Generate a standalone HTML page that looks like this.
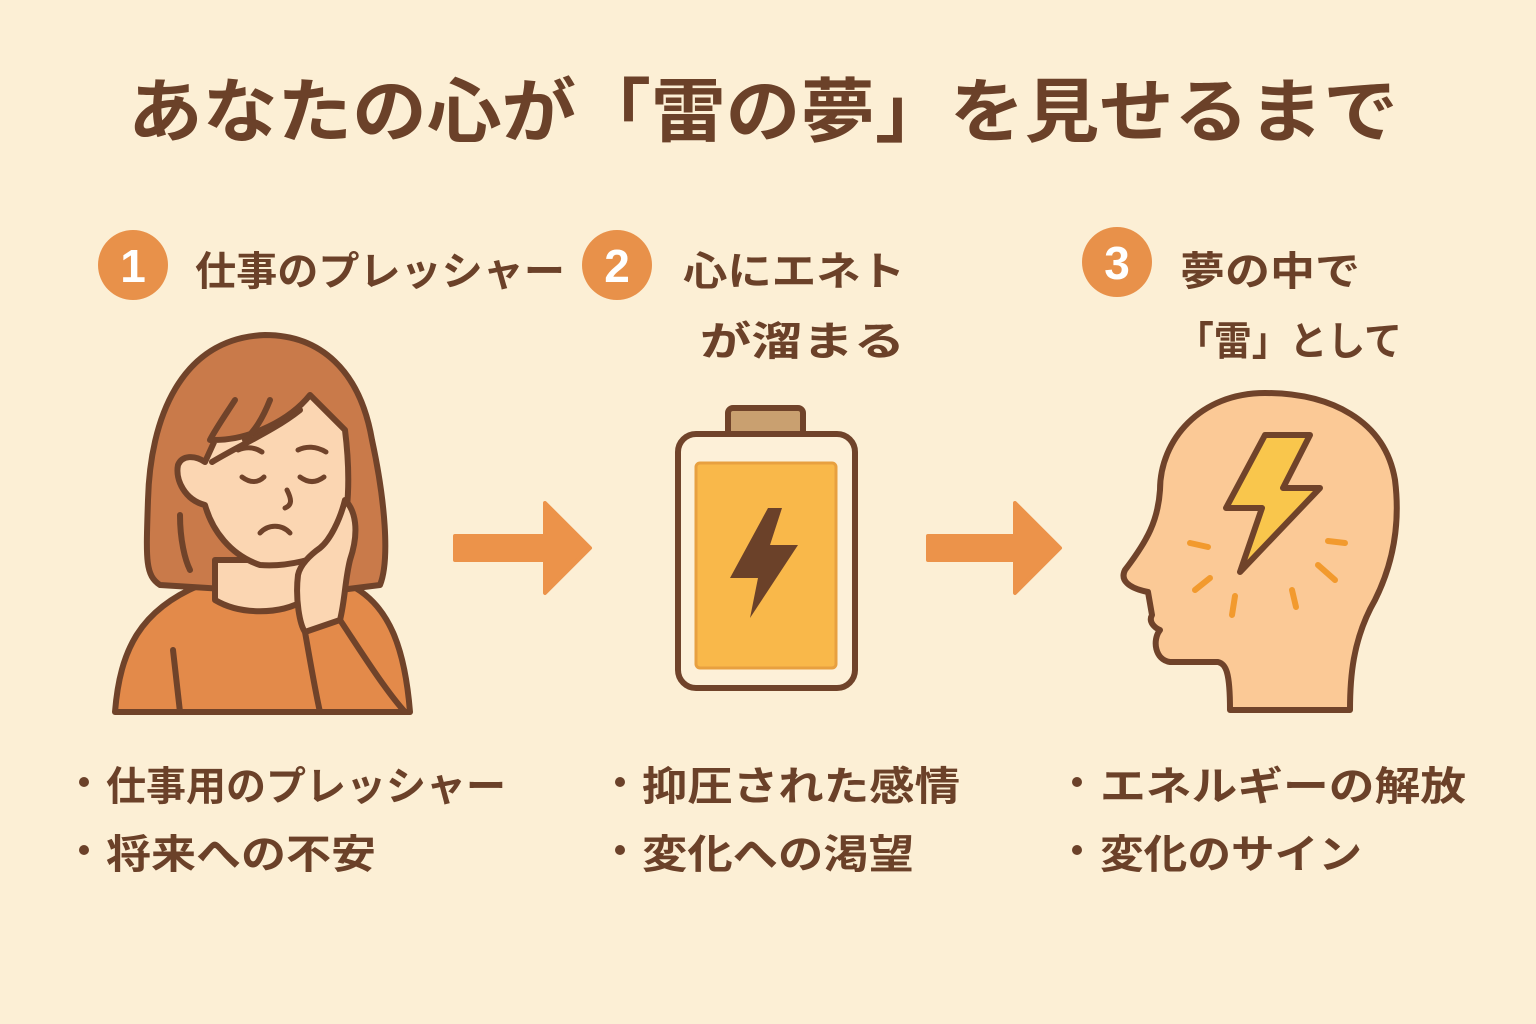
<!DOCTYPE html>
<html><head><meta charset="utf-8"><style>
html,body{margin:0;padding:0;background:#fcefd5;}
svg{display:block}
text{font-family:"Liberation Sans","Noto Sans CJK JP",sans-serif;font-weight:bold;fill:#6b4129}
</style></head><body>
<svg width="1536" height="1024" viewBox="0 0 1536 1024" xmlns="http://www.w3.org/2000/svg">
<rect width="1536" height="1024" fill="#fcefd5"/>
<text x="763" y="136" font-size="70" text-anchor="middle" textLength="1270" lengthAdjust="spacingAndGlyphs">あなたの心が「雷の夢」を見せるまで</text>

<!-- step headers -->
<circle cx="133" cy="265" r="35" fill="#e8914a"/>
<text x="133" y="282" font-size="46" text-anchor="middle" style="fill:#fff">1</text>
<text x="195" y="285" font-size="40" textLength="370" lengthAdjust="spacingAndGlyphs">仕事のプレッシャー</text>

<circle cx="617" cy="265" r="35" fill="#e8914a"/>
<text x="617" y="282" font-size="46" text-anchor="middle" style="fill:#fff">2</text>
<text x="683" y="285" font-size="40" textLength="222" lengthAdjust="spacingAndGlyphs">心にエネト</text>
<text x="905" y="355" font-size="40" text-anchor="end" textLength="205" lengthAdjust="spacingAndGlyphs">が溜まる</text>

<circle cx="1117" cy="262" r="35" fill="#e8914a"/>
<text x="1117" y="279" font-size="46" text-anchor="middle" style="fill:#fff">3</text>
<text x="1180" y="285" font-size="40" textLength="180" lengthAdjust="spacingAndGlyphs">夢の中で</text>
<text x="1176" y="355" font-size="40" textLength="226" lengthAdjust="spacingAndGlyphs">「雷」として</text>

<!-- woman -->
<g stroke="#70432a" stroke-width="6" stroke-linejoin="round" stroke-linecap="round">
  <path d="M115 712 C120 650 140 610 200 585 L350 585 C390 605 405 650 410 712 Z" fill="#e38a4a"/>
  <path d="M265 335 C180 338 150 420 148 500 C146 560 145 575 160 585 L240 590 L340 590 L380 585 C390 560 385 500 372 440 C360 370 320 335 265 335 Z" fill="#c97a4a"/>
  <path d="M215 560 L215 600 C240 615 280 615 305 600 L305 560 Z" fill="#fbd6b2"/>
  <path d="M310 395 L345 430 C350 470 350 510 340 545 C320 560 285 567 260 565 C230 555 212 530 205 505 C185 500 175 480 178 465 C182 455 195 455 205 462 L215 440 C250 440 290 420 310 395 Z" fill="#fbd6b2"/>
  <path d="M212 462 C240 445 275 430 300 410" fill="none"/>
  <path d="M235 400 C222 420 215 430 210 440" fill="none"/>
  <path d="M270 400 C262 420 255 430 245 440" fill="none"/>
  <path d="M238 450 C248 446 256 448 262 452 M298 450 C306 446 316 446 326 452" fill="none" stroke-width="5"/>
  <path d="M242 477 C250 483 258 483 264 477 M300 477 C308 483 316 483 324 477" fill="none" stroke-width="5"/>
  <path d="M287 490 C292 500 292 505 285 508" fill="none" stroke-width="5"/>
  <path d="M260 533 C268 524 282 524 290 533" fill="none" stroke-width="5"/>
  <path d="M180 515 C180 540 185 560 190 570" fill="none"/>
  <path d="M298 575 C295 600 300 625 305 632 L340 620 C345 600 345 580 350 560 C360 530 355 510 345 500 C340 520 330 540 320 548 C310 555 300 565 298 575 Z" fill="#fbd6b2"/>
  <path d="M305 632 C310 660 315 690 320 712 M340 620 C360 650 385 690 405 712" fill="none"/>
  <path d="M173 650 L180 712" fill="none"/>
</g>

<!-- arrows -->
<path d="M455 536 H545 V503 L590 548 L545 593 V560 H455 Z" fill="#ec934a" stroke="#ec934a" stroke-width="4" stroke-linejoin="round"/>
<path d="M928 536 H1015 V503 L1060 548 L1015 593 V560 H928 Z" fill="#ec934a" stroke="#ec934a" stroke-width="4" stroke-linejoin="round"/>

<!-- battery -->
<g stroke="#70432a" stroke-width="6" stroke-linejoin="round">
  <rect x="728" y="408" width="75" height="32" rx="5" fill="#c9a070"/>
  <rect x="678" y="434" width="177" height="254" rx="18" fill="#fdf0d8"/>
  <rect x="696" y="463" width="140" height="205" rx="4" fill="#f9b84a" stroke-width="3" stroke="#e8a040"/>
</g>
<path d="M768 508 L730 578 L758 578 L750 618 L798 545 L770 545 L782 508 Z" fill="#6b4129"/>

<!-- head -->
<path d="M1265 393 C1200 393 1160 440 1160 490 C1158 520 1148 540 1125 570 C1120 580 1128 588 1148 592 L1152 615 C1148 622 1155 628 1160 630 C1152 640 1155 660 1170 662 L1218 662 C1226 664 1230 672 1230 710 L1350 710 C1350 680 1352 640 1375 600 C1395 560 1400 520 1395 480 C1385 420 1330 393 1265 393 Z" fill="#fbc996" stroke="#70432a" stroke-width="6" stroke-linejoin="round"/>
<path d="M1265 435 L1310 435 L1283 488 L1320 488 L1240 572 L1262 508 L1226 508 Z" fill="#f9c64c" stroke="#70432a" stroke-width="6" stroke-linejoin="round"/>
<g stroke="#f29a2e" stroke-width="6" stroke-linecap="round">
  <line x1="1190" y1="543" x2="1208" y2="547"/>
  <line x1="1195" y1="590" x2="1210" y2="578"/>
  <line x1="1235" y1="596" x2="1232" y2="615"/>
  <line x1="1292" y1="590" x2="1296" y2="607"/>
  <line x1="1318" y1="565" x2="1335" y2="580"/>
  <line x1="1328" y1="541" x2="1345" y2="543"/>
</g>

<!-- bullets -->
<g font-size="40">
<circle cx="84" cy="782" r="5" fill="#6b4129"/><text x="106" y="800" textLength="400" lengthAdjust="spacingAndGlyphs">仕事用のプレッシャー</text>
<circle cx="84" cy="850" r="5" fill="#6b4129"/><text x="106" y="868" textLength="270" lengthAdjust="spacingAndGlyphs">将来への不安</text>
<circle cx="620" cy="782" r="5" fill="#6b4129"/><text x="642" y="800" textLength="318" lengthAdjust="spacingAndGlyphs">抑圧された感情</text>
<circle cx="620" cy="850" r="5" fill="#6b4129"/><text x="642" y="868" textLength="272" lengthAdjust="spacingAndGlyphs">変化への渇望</text>
<circle cx="1077" cy="782" r="5" fill="#6b4129"/><text x="1100" y="800" textLength="366" lengthAdjust="spacingAndGlyphs">エネルギーの解放</text>
<circle cx="1077" cy="850" r="5" fill="#6b4129"/><text x="1100" y="868" textLength="262" lengthAdjust="spacingAndGlyphs">変化のサイン</text>
</g>
</svg>
</body></html>
